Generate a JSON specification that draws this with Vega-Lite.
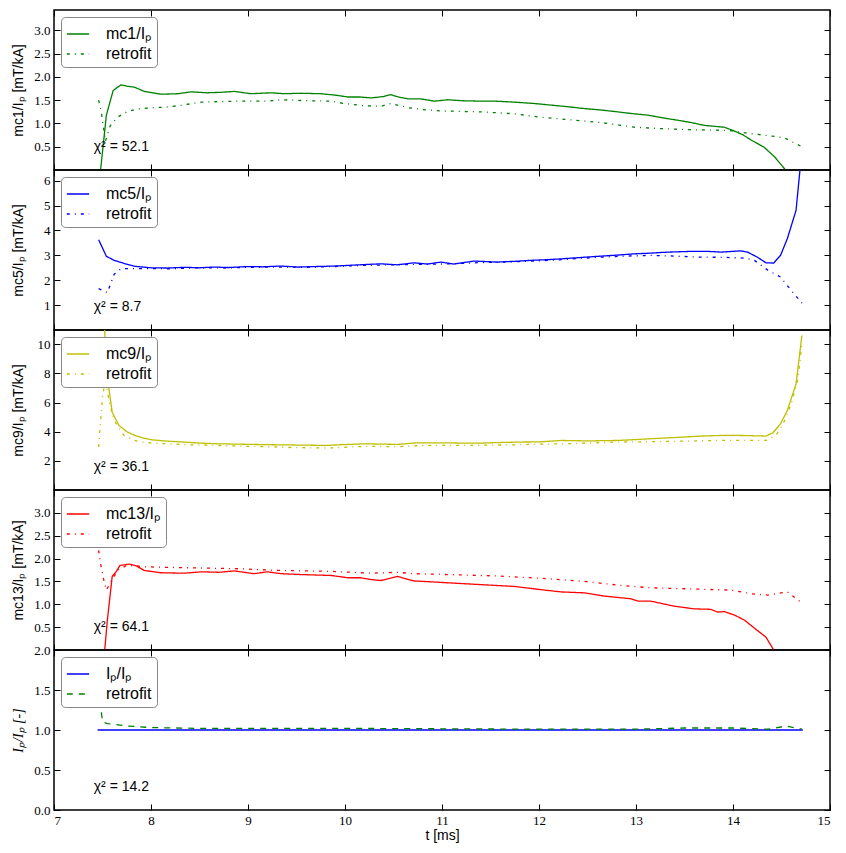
{
"$schema": "https://vega.github.io/schema/vega-lite/v6.json",
"padding": {"left": 10, "top": 8, "right": 0, "bottom": 0},
"spacing": 0,
"bounds": "flush",
"datasets": {
"p1": [
{"t":7.46,"v":-0.4,"s":"mc1/Iₚ"},{"t":7.54,"v":1.18,"s":"mc1/Iₚ"},{"t":7.61,"v":1.71,"s":"mc1/Iₚ"},{"t":7.69,"v":1.83,"s":"mc1/Iₚ"},{"t":7.76,"v":1.80,"s":"mc1/Iₚ"},{"t":7.83,"v":1.78,"s":"mc1/Iₚ"},{"t":7.93,"v":1.69,"s":"mc1/Iₚ"},{"t":8.1,"v":1.63,"s":"mc1/Iₚ"},{"t":8.28,"v":1.64,"s":"mc1/Iₚ"},{"t":8.41,"v":1.68,"s":"mc1/Iₚ"},{"t":8.58,"v":1.66,"s":"mc1/Iₚ"},{"t":8.72,"v":1.67,"s":"mc1/Iₚ"},{"t":8.86,"v":1.69,"s":"mc1/Iₚ"},{"t":9.03,"v":1.64,"s":"mc1/Iₚ"},{"t":9.24,"v":1.66,"s":"mc1/Iₚ"},{"t":9.37,"v":1.64,"s":"mc1/Iₚ"},{"t":9.55,"v":1.65,"s":"mc1/Iₚ"},{"t":9.75,"v":1.64,"s":"mc1/Iₚ"},{"t":9.9,"v":1.61,"s":"mc1/Iₚ"},{"t":10.03,"v":1.57,"s":"mc1/Iₚ"},{"t":10.15,"v":1.57,"s":"mc1/Iₚ"},{"t":10.27,"v":1.55,"s":"mc1/Iₚ"},{"t":10.4,"v":1.58,"s":"mc1/Iₚ"},{"t":10.47,"v":1.62,"s":"mc1/Iₚ"},{"t":10.55,"v":1.57,"s":"mc1/Iₚ"},{"t":10.65,"v":1.53,"s":"mc1/Iₚ"},{"t":10.78,"v":1.53,"s":"mc1/Iₚ"},{"t":10.92,"v":1.48,"s":"mc1/Iₚ"},{"t":11.06,"v":1.51,"s":"mc1/Iₚ"},{"t":11.2,"v":1.49,"s":"mc1/Iₚ"},{"t":11.4,"v":1.48,"s":"mc1/Iₚ"},{"t":11.55,"v":1.48,"s":"mc1/Iₚ"},{"t":11.74,"v":1.46,"s":"mc1/Iₚ"},{"t":11.95,"v":1.43,"s":"mc1/Iₚ"},{"t":12.15,"v":1.39,"s":"mc1/Iₚ"},{"t":12.3,"v":1.36,"s":"mc1/Iₚ"},{"t":12.47,"v":1.32,"s":"mc1/Iₚ"},{"t":12.64,"v":1.29,"s":"mc1/Iₚ"},{"t":12.81,"v":1.25,"s":"mc1/Iₚ"},{"t":12.97,"v":1.21,"s":"mc1/Iₚ"},{"t":13.12,"v":1.18,"s":"mc1/Iₚ"},{"t":13.28,"v":1.12,"s":"mc1/Iₚ"},{"t":13.43,"v":1.07,"s":"mc1/Iₚ"},{"t":13.57,"v":1.02,"s":"mc1/Iₚ"},{"t":13.7,"v":0.96,"s":"mc1/Iₚ"},{"t":13.91,"v":0.92,"s":"mc1/Iₚ"},{"t":14.0,"v":0.85,"s":"mc1/Iₚ"},{"t":14.1,"v":0.76,"s":"mc1/Iₚ"},{"t":14.19,"v":0.64,"s":"mc1/Iₚ"},{"t":14.32,"v":0.49,"s":"mc1/Iₚ"},{"t":14.43,"v":0.28,"s":"mc1/Iₚ"},{"t":14.53,"v":0.03,"s":"mc1/Iₚ"},{"t":14.62,"v":-0.3,"s":"mc1/Iₚ"},{"t":14.72,"v":-0.7,"s":"mc1/Iₚ"},
{"t":7.46,"v":1.50,"s":"retrofit"},{"t":7.49,"v":1.22,"s":"retrofit"},{"t":7.53,"v":0.62,"s":"retrofit"},{"t":7.58,"v":0.95,"s":"retrofit"},{"t":7.65,"v":1.13,"s":"retrofit"},{"t":7.75,"v":1.25,"s":"retrofit"},{"t":7.85,"v":1.31,"s":"retrofit"},{"t":8.0,"v":1.34,"s":"retrofit"},{"t":8.15,"v":1.35,"s":"retrofit"},{"t":8.31,"v":1.39,"s":"retrofit"},{"t":8.52,"v":1.46,"s":"retrofit"},{"t":8.7,"v":1.47,"s":"retrofit"},{"t":8.87,"v":1.48,"s":"retrofit"},{"t":9.05,"v":1.48,"s":"retrofit"},{"t":9.2,"v":1.48,"s":"retrofit"},{"t":9.34,"v":1.51,"s":"retrofit"},{"t":9.6,"v":1.49,"s":"retrofit"},{"t":9.86,"v":1.48,"s":"retrofit"},{"t":9.99,"v":1.43,"s":"retrofit"},{"t":10.2,"v":1.38,"s":"retrofit"},{"t":10.37,"v":1.37,"s":"retrofit"},{"t":10.47,"v":1.43,"s":"retrofit"},{"t":10.65,"v":1.34,"s":"retrofit"},{"t":10.8,"v":1.30,"s":"retrofit"},{"t":10.99,"v":1.27,"s":"retrofit"},{"t":11.2,"v":1.26,"s":"retrofit"},{"t":11.4,"v":1.25,"s":"retrofit"},{"t":11.74,"v":1.21,"s":"retrofit"},{"t":12.0,"v":1.14,"s":"retrofit"},{"t":12.26,"v":1.09,"s":"retrofit"},{"t":12.64,"v":1.02,"s":"retrofit"},{"t":12.98,"v":0.92,"s":"retrofit"},{"t":13.25,"v":0.89,"s":"retrofit"},{"t":13.5,"v":0.87,"s":"retrofit"},{"t":13.95,"v":0.85,"s":"retrofit"},{"t":14.19,"v":0.78,"s":"retrofit"},{"t":14.4,"v":0.73,"s":"retrofit"},{"t":14.53,"v":0.69,"s":"retrofit"},{"t":14.72,"v":0.49,"s":"retrofit"}
],
"p2": [
{"t":7.46,"v":3.63,"s":"mc5/Iₚ"},{"t":7.54,"v":2.96,"s":"mc5/Iₚ"},{"t":7.62,"v":2.80,"s":"mc5/Iₚ"},{"t":7.72,"v":2.68,"s":"mc5/Iₚ"},{"t":7.83,"v":2.56,"s":"mc5/Iₚ"},{"t":8.0,"v":2.50,"s":"mc5/Iₚ"},{"t":8.17,"v":2.49,"s":"mc5/Iₚ"},{"t":8.35,"v":2.52,"s":"mc5/Iₚ"},{"t":8.5,"v":2.50,"s":"mc5/Iₚ"},{"t":8.65,"v":2.53,"s":"mc5/Iₚ"},{"t":8.8,"v":2.51,"s":"mc5/Iₚ"},{"t":9.0,"v":2.55,"s":"mc5/Iₚ"},{"t":9.15,"v":2.54,"s":"mc5/Iₚ"},{"t":9.34,"v":2.57,"s":"mc5/Iₚ"},{"t":9.51,"v":2.53,"s":"mc5/Iₚ"},{"t":9.7,"v":2.55,"s":"mc5/Iₚ"},{"t":9.89,"v":2.57,"s":"mc5/Iₚ"},{"t":10.05,"v":2.60,"s":"mc5/Iₚ"},{"t":10.2,"v":2.63,"s":"mc5/Iₚ"},{"t":10.37,"v":2.66,"s":"mc5/Iₚ"},{"t":10.54,"v":2.62,"s":"mc5/Iₚ"},{"t":10.71,"v":2.70,"s":"mc5/Iₚ"},{"t":10.85,"v":2.65,"s":"mc5/Iₚ"},{"t":10.99,"v":2.73,"s":"mc5/Iₚ"},{"t":11.12,"v":2.65,"s":"mc5/Iₚ"},{"t":11.33,"v":2.77,"s":"mc5/Iₚ"},{"t":11.57,"v":2.73,"s":"mc5/Iₚ"},{"t":11.75,"v":2.76,"s":"mc5/Iₚ"},{"t":11.92,"v":2.80,"s":"mc5/Iₚ"},{"t":12.1,"v":2.83,"s":"mc5/Iₚ"},{"t":12.23,"v":2.86,"s":"mc5/Iₚ"},{"t":12.45,"v":2.92,"s":"mc5/Iₚ"},{"t":12.64,"v":2.97,"s":"mc5/Iₚ"},{"t":12.81,"v":3.01,"s":"mc5/Iₚ"},{"t":12.98,"v":3.06,"s":"mc5/Iₚ"},{"t":13.15,"v":3.09,"s":"mc5/Iₚ"},{"t":13.33,"v":3.13,"s":"mc5/Iₚ"},{"t":13.57,"v":3.16,"s":"mc5/Iₚ"},{"t":13.74,"v":3.16,"s":"mc5/Iₚ"},{"t":13.88,"v":3.13,"s":"mc5/Iₚ"},{"t":14.08,"v":3.18,"s":"mc5/Iₚ"},{"t":14.15,"v":3.13,"s":"mc5/Iₚ"},{"t":14.25,"v":2.93,"s":"mc5/Iₚ"},{"t":14.34,"v":2.70,"s":"mc5/Iₚ"},{"t":14.42,"v":2.69,"s":"mc5/Iₚ"},{"t":14.49,"v":3.0,"s":"mc5/Iₚ"},{"t":14.56,"v":3.67,"s":"mc5/Iₚ"},{"t":14.65,"v":4.81,"s":"mc5/Iₚ"},{"t":14.69,"v":6.41,"s":"mc5/Iₚ"},{"t":14.72,"v":7.2,"s":"mc5/Iₚ"},
{"t":7.46,"v":1.66,"s":"retrofit"},{"t":7.55,"v":1.50,"s":"retrofit"},{"t":7.62,"v":2.24,"s":"retrofit"},{"t":7.69,"v":2.46,"s":"retrofit"},{"t":7.8,"v":2.47,"s":"retrofit"},{"t":8.0,"v":2.47,"s":"retrofit"},{"t":8.2,"v":2.46,"s":"retrofit"},{"t":8.4,"v":2.49,"s":"retrofit"},{"t":8.6,"v":2.50,"s":"retrofit"},{"t":8.8,"v":2.49,"s":"retrofit"},{"t":9.0,"v":2.52,"s":"retrofit"},{"t":9.3,"v":2.53,"s":"retrofit"},{"t":9.6,"v":2.52,"s":"retrofit"},{"t":9.9,"v":2.55,"s":"retrofit"},{"t":10.2,"v":2.60,"s":"retrofit"},{"t":10.5,"v":2.62,"s":"retrofit"},{"t":10.8,"v":2.64,"s":"retrofit"},{"t":11.1,"v":2.66,"s":"retrofit"},{"t":11.4,"v":2.71,"s":"retrofit"},{"t":11.8,"v":2.75,"s":"retrofit"},{"t":12.12,"v":2.80,"s":"retrofit"},{"t":12.4,"v":2.87,"s":"retrofit"},{"t":12.64,"v":2.93,"s":"retrofit"},{"t":12.9,"v":2.97,"s":"retrofit"},{"t":13.15,"v":3.0,"s":"retrofit"},{"t":13.4,"v":2.97,"s":"retrofit"},{"t":13.65,"v":2.93,"s":"retrofit"},{"t":13.9,"v":2.92,"s":"retrofit"},{"t":14.12,"v":2.89,"s":"retrofit"},{"t":14.22,"v":2.80,"s":"retrofit"},{"t":14.36,"v":2.40,"s":"retrofit"},{"t":14.49,"v":2.13,"s":"retrofit"},{"t":14.6,"v":1.59,"s":"retrofit"},{"t":14.71,"v":1.08,"s":"retrofit"}
],
"p3": [
{"t":7.46,"v":18,"s":"mc9/Iₚ"},{"t":7.55,"v":7.74,"s":"mc9/Iₚ"},{"t":7.60,"v":5.34,"s":"mc9/Iₚ"},{"t":7.67,"v":4.43,"s":"mc9/Iₚ"},{"t":7.75,"v":4.0,"s":"mc9/Iₚ"},{"t":7.83,"v":3.75,"s":"mc9/Iₚ"},{"t":7.92,"v":3.57,"s":"mc9/Iₚ"},{"t":8.0,"v":3.45,"s":"mc9/Iₚ"},{"t":8.17,"v":3.35,"s":"mc9/Iₚ"},{"t":8.34,"v":3.29,"s":"mc9/Iₚ"},{"t":8.5,"v":3.22,"s":"mc9/Iₚ"},{"t":8.69,"v":3.17,"s":"mc9/Iₚ"},{"t":8.86,"v":3.15,"s":"mc9/Iₚ"},{"t":9.03,"v":3.13,"s":"mc9/Iₚ"},{"t":9.2,"v":3.11,"s":"mc9/Iₚ"},{"t":9.34,"v":3.10,"s":"mc9/Iₚ"},{"t":9.55,"v":3.08,"s":"mc9/Iₚ"},{"t":9.82,"v":3.06,"s":"mc9/Iₚ"},{"t":10.0,"v":3.12,"s":"mc9/Iₚ"},{"t":10.2,"v":3.17,"s":"mc9/Iₚ"},{"t":10.37,"v":3.15,"s":"mc9/Iₚ"},{"t":10.54,"v":3.13,"s":"mc9/Iₚ"},{"t":10.75,"v":3.24,"s":"mc9/Iₚ"},{"t":10.99,"v":3.24,"s":"mc9/Iₚ"},{"t":11.2,"v":3.22,"s":"mc9/Iₚ"},{"t":11.4,"v":3.22,"s":"mc9/Iₚ"},{"t":11.6,"v":3.26,"s":"mc9/Iₚ"},{"t":11.81,"v":3.29,"s":"mc9/Iₚ"},{"t":12.0,"v":3.30,"s":"mc9/Iₚ"},{"t":12.23,"v":3.40,"s":"mc9/Iₚ"},{"t":12.5,"v":3.37,"s":"mc9/Iₚ"},{"t":12.81,"v":3.40,"s":"mc9/Iₚ"},{"t":13.0,"v":3.46,"s":"mc9/Iₚ"},{"t":13.15,"v":3.52,"s":"mc9/Iₚ"},{"t":13.4,"v":3.60,"s":"mc9/Iₚ"},{"t":13.67,"v":3.70,"s":"mc9/Iₚ"},{"t":13.91,"v":3.75,"s":"mc9/Iₚ"},{"t":14.1,"v":3.74,"s":"mc9/Iₚ"},{"t":14.34,"v":3.70,"s":"mc9/Iₚ"},{"t":14.41,"v":3.92,"s":"mc9/Iₚ"},{"t":14.49,"v":4.54,"s":"mc9/Iₚ"},{"t":14.56,"v":5.46,"s":"mc9/Iₚ"},{"t":14.65,"v":7.28,"s":"mc9/Iₚ"},{"t":14.71,"v":10.6,"s":"mc9/Iₚ"},
{"t":7.46,"v":2.95,"s":"retrofit"},{"t":7.50,"v":6.37,"s":"retrofit"},{"t":7.53,"v":7.6,"s":"retrofit"},{"t":7.57,"v":6.0,"s":"retrofit"},{"t":7.62,"v":4.77,"s":"retrofit"},{"t":7.72,"v":3.75,"s":"retrofit"},{"t":7.83,"v":3.40,"s":"retrofit"},{"t":7.95,"v":3.25,"s":"retrofit"},{"t":8.17,"v":3.17,"s":"retrofit"},{"t":8.4,"v":3.10,"s":"retrofit"},{"t":8.7,"v":3.05,"s":"retrofit"},{"t":9.0,"v":3.0,"s":"retrofit"},{"t":9.2,"v":2.97,"s":"retrofit"},{"t":9.41,"v":2.92,"s":"retrofit"},{"t":9.6,"v":2.90,"s":"retrofit"},{"t":9.82,"v":2.88,"s":"retrofit"},{"t":10.0,"v":2.93,"s":"retrofit"},{"t":10.23,"v":3.0,"s":"retrofit"},{"t":10.54,"v":2.97,"s":"retrofit"},{"t":10.82,"v":3.06,"s":"retrofit"},{"t":11.23,"v":3.06,"s":"retrofit"},{"t":11.5,"v":3.08,"s":"retrofit"},{"t":11.74,"v":3.10,"s":"retrofit"},{"t":12.0,"v":3.14,"s":"retrofit"},{"t":12.23,"v":3.17,"s":"retrofit"},{"t":12.5,"v":3.22,"s":"retrofit"},{"t":12.81,"v":3.29,"s":"retrofit"},{"t":13.33,"v":3.33,"s":"retrofit"},{"t":13.84,"v":3.40,"s":"retrofit"},{"t":14.34,"v":3.40,"s":"retrofit"},{"t":14.44,"v":3.75,"s":"retrofit"},{"t":14.49,"v":4.2,"s":"retrofit"},{"t":14.54,"v":4.88,"s":"retrofit"},{"t":14.6,"v":5.91,"s":"retrofit"},{"t":14.67,"v":7.62,"s":"retrofit"},{"t":14.71,"v":10.0,"s":"retrofit"}
],
"p4": [
{"t":7.46,"v":-1.5,"s":"mc13/Iₚ"},{"t":7.55,"v":0.65,"s":"mc13/Iₚ"},{"t":7.60,"v":1.61,"s":"mc13/Iₚ"},{"t":7.64,"v":1.71,"s":"mc13/Iₚ"},{"t":7.68,"v":1.85,"s":"mc13/Iₚ"},{"t":7.78,"v":1.88,"s":"mc13/Iₚ"},{"t":7.85,"v":1.84,"s":"mc13/Iₚ"},{"t":7.93,"v":1.74,"s":"mc13/Iₚ"},{"t":8.10,"v":1.69,"s":"mc13/Iₚ"},{"t":8.34,"v":1.68,"s":"mc13/Iₚ"},{"t":8.52,"v":1.71,"s":"mc13/Iₚ"},{"t":8.7,"v":1.70,"s":"mc13/Iₚ"},{"t":8.86,"v":1.73,"s":"mc13/Iₚ"},{"t":9.06,"v":1.67,"s":"mc13/Iₚ"},{"t":9.2,"v":1.71,"s":"mc13/Iₚ"},{"t":9.34,"v":1.67,"s":"mc13/Iₚ"},{"t":9.55,"v":1.65,"s":"mc13/Iₚ"},{"t":9.86,"v":1.63,"s":"mc13/Iₚ"},{"t":10.03,"v":1.58,"s":"mc13/Iₚ"},{"t":10.16,"v":1.58,"s":"mc13/Iₚ"},{"t":10.27,"v":1.54,"s":"mc13/Iₚ"},{"t":10.37,"v":1.52,"s":"mc13/Iₚ"},{"t":10.54,"v":1.61,"s":"mc13/Iₚ"},{"t":10.71,"v":1.51,"s":"mc13/Iₚ"},{"t":10.9,"v":1.49,"s":"mc13/Iₚ"},{"t":11.06,"v":1.47,"s":"mc13/Iₚ"},{"t":11.4,"v":1.43,"s":"mc13/Iₚ"},{"t":11.75,"v":1.39,"s":"mc13/Iₚ"},{"t":12.02,"v":1.32,"s":"mc13/Iₚ"},{"t":12.23,"v":1.27,"s":"mc13/Iₚ"},{"t":12.47,"v":1.25,"s":"mc13/Iₚ"},{"t":12.67,"v":1.18,"s":"mc13/Iₚ"},{"t":12.95,"v":1.12,"s":"mc13/Iₚ"},{"t":13.02,"v":1.07,"s":"mc13/Iₚ"},{"t":13.15,"v":1.07,"s":"mc13/Iₚ"},{"t":13.39,"v":0.96,"s":"mc13/Iₚ"},{"t":13.60,"v":0.90,"s":"mc13/Iₚ"},{"t":13.77,"v":0.89,"s":"mc13/Iₚ"},{"t":13.84,"v":0.83,"s":"mc13/Iₚ"},{"t":13.91,"v":0.84,"s":"mc13/Iₚ"},{"t":14.02,"v":0.76,"s":"mc13/Iₚ"},{"t":14.12,"v":0.65,"s":"mc13/Iₚ"},{"t":14.22,"v":0.48,"s":"mc13/Iₚ"},{"t":14.34,"v":0.28,"s":"mc13/Iₚ"},{"t":14.42,"v":0.0,"s":"mc13/Iₚ"},{"t":14.55,"v":-0.4,"s":"mc13/Iₚ"},{"t":14.72,"v":-0.9,"s":"mc13/Iₚ"},
{"t":7.46,"v":2.18,"s":"retrofit"},{"t":7.48,"v":1.89,"s":"retrofit"},{"t":7.51,"v":1.56,"s":"retrofit"},{"t":7.54,"v":1.31,"s":"retrofit"},{"t":7.6,"v":1.55,"s":"retrofit"},{"t":7.66,"v":1.75,"s":"retrofit"},{"t":7.75,"v":1.85,"s":"retrofit"},{"t":7.85,"v":1.84,"s":"retrofit"},{"t":7.93,"v":1.82,"s":"retrofit"},{"t":8.34,"v":1.80,"s":"retrofit"},{"t":8.86,"v":1.78,"s":"retrofit"},{"t":9.34,"v":1.74,"s":"retrofit"},{"t":9.86,"v":1.72,"s":"retrofit"},{"t":10.27,"v":1.68,"s":"retrofit"},{"t":10.54,"v":1.70,"s":"retrofit"},{"t":10.71,"v":1.67,"s":"retrofit"},{"t":11.06,"v":1.65,"s":"retrofit"},{"t":11.57,"v":1.62,"s":"retrofit"},{"t":12.09,"v":1.56,"s":"retrofit"},{"t":12.47,"v":1.50,"s":"retrofit"},{"t":12.81,"v":1.42,"s":"retrofit"},{"t":13.15,"v":1.36,"s":"retrofit"},{"t":13.5,"v":1.34,"s":"retrofit"},{"t":13.98,"v":1.31,"s":"retrofit"},{"t":14.19,"v":1.23,"s":"retrofit"},{"t":14.36,"v":1.20,"s":"retrofit"},{"t":14.56,"v":1.27,"s":"retrofit"},{"t":14.71,"v":1.03,"s":"retrofit"}
],
"p5": [
{"t":7.45,"v":1,"s":"Iₚ/Iₚ"},{"t":9,"v":1,"s":"Iₚ/Iₚ"},{"t":11,"v":1,"s":"Iₚ/Iₚ"},{"t":13,"v":1,"s":"Iₚ/Iₚ"},{"t":14.72,"v":1,"s":"Iₚ/Iₚ"},
{"t":7.46,"v":1.52,"s":"retrofit"},{"t":7.5,"v":1.10,"s":"retrofit"},{"t":7.55,"v":1.08,"s":"retrofit"},{"t":7.76,"v":1.05,"s":"retrofit"},{"t":8.0,"v":1.03,"s":"retrofit"},{"t":8.5,"v":1.02,"s":"retrofit"},{"t":9.0,"v":1.02,"s":"retrofit"},{"t":10.0,"v":1.02,"s":"retrofit"},{"t":11.0,"v":1.015,"s":"retrofit"},{"t":12.0,"v":1.01,"s":"retrofit"},{"t":12.98,"v":1.01,"s":"retrofit"},{"t":13.5,"v":1.025,"s":"retrofit"},{"t":14.0,"v":1.025,"s":"retrofit"},{"t":14.36,"v":1.01,"s":"retrofit"},{"t":14.55,"v":1.05,"s":"retrofit"},{"t":14.71,"v":1.01,"s":"retrofit"}
]
},
"vconcat": [
{"width": 776, "height": 160,
 "layer": [
  {"data": {"name": "p1"},
   "mark": {"type": "line", "clip": true, "strokeWidth": 1.3},
   "encoding": {
    "x": {"field": "t", "type": "quantitative", "scale": {"domain": [7, 15], "nice": false, "zero": false}, "axis": {"orient": "bottom", "values": [7,8,9,10,11,12,13,14,15], "labels": false, "title": null, "minExtent": 0, "maxExtent": 0}},
    "y": {"field": "v", "type": "quantitative", "scale": {"domain": [0, 3.44], "nice": false, "zero": false}, "axis": {"orient": "left", "values": [0.5,1,1.5,2,2.5,3], "format": ".1f", "title": "mc1/Iₚ [mT/kA]"}},
    "color": {"field": "s", "type": "nominal", "scale": {"domain": ["mc1/Iₚ", "retrofit"], "range": ["#008000", "#008000"]}, "legend": {"title": null}},
    "strokeDash": {"field": "s", "type": "nominal", "scale": {"domain": ["mc1/Iₚ", "retrofit"], "range": [[1,0],[3,5,1,5]]}, "legend": {"title": null}}
   }},
  {"data": {"values": [{"label": "χ² = 52.1"}]},
   "mark": {"type": "text", "align": "left", "baseline": "middle", "font": "Liberation Sans", "fontSize": 14, "color": "black"},
   "encoding": {
    "x": {"datum": 7.41, "type": "quantitative", "axis": {"orient": "top", "values": [7,8,9,10,11,12,13,14,15], "labels": false, "title": null, "minExtent": 0, "maxExtent": 0}},
    "y": {"datum": 0.49, "type": "quantitative", "axis": {"orient": "right", "values": [0.5,1,1.5,2,2.5,3], "labels": false, "title": null, "minExtent": 0, "maxExtent": 0}},
    "text": {"field": "label"}
   }}
 ],
 "resolve": {"axis": {"x": "independent", "y": "independent"}}
},
{"width": 776, "height": 160,
 "layer": [
  {"data": {"name": "p2"},
   "mark": {"type": "line", "clip": true, "strokeWidth": 1.3},
   "encoding": {
    "x": {"field": "t", "type": "quantitative", "scale": {"domain": [7, 15], "nice": false, "zero": false}, "axis": {"orient": "bottom", "values": [7,8,9,10,11,12,13,14,15], "labels": false, "title": null, "minExtent": 0, "maxExtent": 0}},
    "y": {"field": "v", "type": "quantitative", "scale": {"domain": [0, 6.43], "nice": false, "zero": false}, "axis": {"orient": "left", "values": [1,2,3,4,5,6], "format": "d", "title": "mc5/Iₚ [mT/kA]"}},
    "color": {"field": "s", "type": "nominal", "scale": {"domain": ["mc5/Iₚ", "retrofit"], "range": ["#0000ff", "#0000ff"]}, "legend": {"title": null}},
    "strokeDash": {"field": "s", "type": "nominal", "scale": {"domain": ["mc5/Iₚ", "retrofit"], "range": [[1,0],[3,5,1,5]]}, "legend": {"title": null}}
   }},
  {"data": {"values": [{"label": "χ² = 8.7"}]},
   "mark": {"type": "text", "align": "left", "baseline": "middle", "font": "Liberation Sans", "fontSize": 14, "color": "black"},
   "encoding": {
    "x": {"datum": 7.41, "type": "quantitative", "axis": {"orient": "top", "values": [7,8,9,10,11,12,13,14,15], "labels": false, "title": null, "minExtent": 0, "maxExtent": 0}},
    "y": {"datum": 0.92, "type": "quantitative", "axis": {"orient": "right", "values": [1,2,3,4,5,6], "labels": false, "title": null, "minExtent": 0, "maxExtent": 0}},
    "text": {"field": "label"}
   }}
 ],
 "resolve": {"axis": {"x": "independent", "y": "independent"}}
},
{"width": 776, "height": 160,
 "layer": [
  {"data": {"name": "p3"},
   "mark": {"type": "line", "clip": true, "strokeWidth": 1.3},
   "encoding": {
    "x": {"field": "t", "type": "quantitative", "scale": {"domain": [7, 15], "nice": false, "zero": false}, "axis": {"orient": "bottom", "values": [7,8,9,10,11,12,13,14,15], "labels": false, "title": null, "minExtent": 0, "maxExtent": 0}},
    "y": {"field": "v", "type": "quantitative", "scale": {"domain": [0, 10.98], "nice": false, "zero": false}, "axis": {"orient": "left", "values": [2,4,6,8,10], "format": "d", "title": "mc9/Iₚ [mT/kA]"}},
    "color": {"field": "s", "type": "nominal", "scale": {"domain": ["mc9/Iₚ", "retrofit"], "range": ["#bfbf00", "#bfbf00"]}, "legend": {"title": null}},
    "strokeDash": {"field": "s", "type": "nominal", "scale": {"domain": ["mc9/Iₚ", "retrofit"], "range": [[1,0],[3,5,1,5]]}, "legend": {"title": null}}
   }},
  {"data": {"values": [{"label": "χ² = 36.1"}]},
   "mark": {"type": "text", "align": "left", "baseline": "middle", "font": "Liberation Sans", "fontSize": 14, "color": "black"},
   "encoding": {
    "x": {"datum": 7.41, "type": "quantitative", "axis": {"orient": "top", "values": [7,8,9,10,11,12,13,14,15], "labels": false, "title": null, "minExtent": 0, "maxExtent": 0}},
    "y": {"datum": 1.58, "type": "quantitative", "axis": {"orient": "right", "values": [2,4,6,8,10], "labels": false, "title": null, "minExtent": 0, "maxExtent": 0}},
    "text": {"field": "label"}
   }}
 ],
 "resolve": {"axis": {"x": "independent", "y": "independent"}}
},
{"width": 776, "height": 160,
 "layer": [
  {"data": {"name": "p4"},
   "mark": {"type": "line", "clip": true, "strokeWidth": 1.3},
   "encoding": {
    "x": {"field": "t", "type": "quantitative", "scale": {"domain": [7, 15], "nice": false, "zero": false}, "axis": {"orient": "bottom", "values": [7,8,9,10,11,12,13,14,15], "labels": false, "title": null, "minExtent": 0, "maxExtent": 0}},
    "y": {"field": "v", "type": "quantitative", "scale": {"domain": [0, 3.5], "nice": false, "zero": false}, "axis": {"orient": "left", "values": [0.5,1,1.5,2,2.5,3], "format": ".1f", "title": "mc13/Iₚ [mT/kA]"}},
    "color": {"field": "s", "type": "nominal", "scale": {"domain": ["mc13/Iₚ", "retrofit"], "range": ["#ff0000", "#ff0000"]}, "legend": {"title": null}},
    "strokeDash": {"field": "s", "type": "nominal", "scale": {"domain": ["mc13/Iₚ", "retrofit"], "range": [[1,0],[3,5,1,5]]}, "legend": {"title": null}}
   }},
  {"data": {"values": [{"label": "χ² = 64.1"}]},
   "mark": {"type": "text", "align": "left", "baseline": "middle", "font": "Liberation Sans", "fontSize": 14, "color": "black"},
   "encoding": {
    "x": {"datum": 7.41, "type": "quantitative", "axis": {"orient": "top", "values": [7,8,9,10,11,12,13,14,15], "labels": false, "title": null, "minExtent": 0, "maxExtent": 0}},
    "y": {"datum": 0.50, "type": "quantitative", "axis": {"orient": "right", "values": [0.5,1,1.5,2,2.5,3], "labels": false, "title": null, "minExtent": 0, "maxExtent": 0}},
    "text": {"field": "label"}
   }}
 ],
 "resolve": {"axis": {"x": "independent", "y": "independent"}}
},
{"width": 776, "height": 160,
 "layer": [
  {"data": {"name": "p5"},
   "mark": {"type": "line", "clip": true, "strokeWidth": 1.3},
   "encoding": {
    "x": {"field": "t", "type": "quantitative", "scale": {"domain": [7, 15], "nice": false, "zero": false}, "axis": {"orient": "bottom", "values": [7,8,9,10,11,12,13,14,15], "format": "d", "labelPadding": 10, "title": "t [ms]", "titlePadding": 1, "titleFontSize": 14}},
    "y": {"field": "v", "type": "quantitative", "scale": {"domain": [0, 2], "nice": false, "zero": false}, "axis": {"orient": "left", "values": [0,0.5,1,1.5,2], "format": ".1f", "title": "Iₚ/Iₚ [-]", "titleFont": "Liberation Serif", "titleFontStyle": "italic"}},
    "color": {"field": "s", "type": "nominal", "scale": {"domain": ["Iₚ/Iₚ", "retrofit"], "range": ["#0000ff", "#008000"]}, "legend": {"title": null}},
    "strokeDash": {"field": "s", "type": "nominal", "scale": {"domain": ["Iₚ/Iₚ", "retrofit"], "range": [[1,0],[6,6]]}, "legend": {"title": null}}
   }},
  {"data": {"values": [{"label": "χ² = 14.2"}]},
   "mark": {"type": "text", "align": "left", "baseline": "middle", "font": "Liberation Sans", "fontSize": 14, "color": "black"},
   "encoding": {
    "x": {"datum": 7.41, "type": "quantitative", "axis": {"orient": "top", "values": [7,8,9,10,11,12,13,14,15], "labels": false, "title": null, "minExtent": 0, "maxExtent": 0}},
    "y": {"datum": 0.29, "type": "quantitative", "axis": {"orient": "right", "values": [0,0.5,1,1.5,2], "labels": false, "title": null, "minExtent": 0, "maxExtent": 0}},
    "text": {"field": "label"}
   }}
 ],
 "resolve": {"axis": {"x": "independent", "y": "independent"}}
}
],
"resolve": {"scale": {"color": "independent", "strokeDash": "independent", "y": "independent"}, "legend": {"color": "independent", "strokeDash": "independent"}},
"config": {
 "background": "white",
 "view": {"stroke": "black", "strokeWidth": 1.5},
 "axis": {"grid": false, "domain": false, "tickColor": "black", "tickSize": -6, "tickWidth": 1, "labelFont": "Liberation Serif", "labelFontSize": 13, "labelColor": "black", "labelPadding": 10, "titleFont": "Liberation Sans", "titleFontSize": 14, "titleFontWeight": "normal", "titleColor": "black"},
 "axisLeft": {"minExtent": 25, "maxExtent": 25, "titlePadding": 4},
 "legend": {"orient": "top-left", "offset": 7, "strokeColor": "#888888", "strokeWidth": 1, "cornerRadius": 4, "padding": 5, "fillColor": "white", "symbolType": "stroke", "symbolSize": 500, "symbolStrokeWidth": 1.3, "labelFont": "Liberation Sans", "labelFontSize": 16, "labelColor": "black", "labelOffset": 16, "rowPadding": 0}
}
}
